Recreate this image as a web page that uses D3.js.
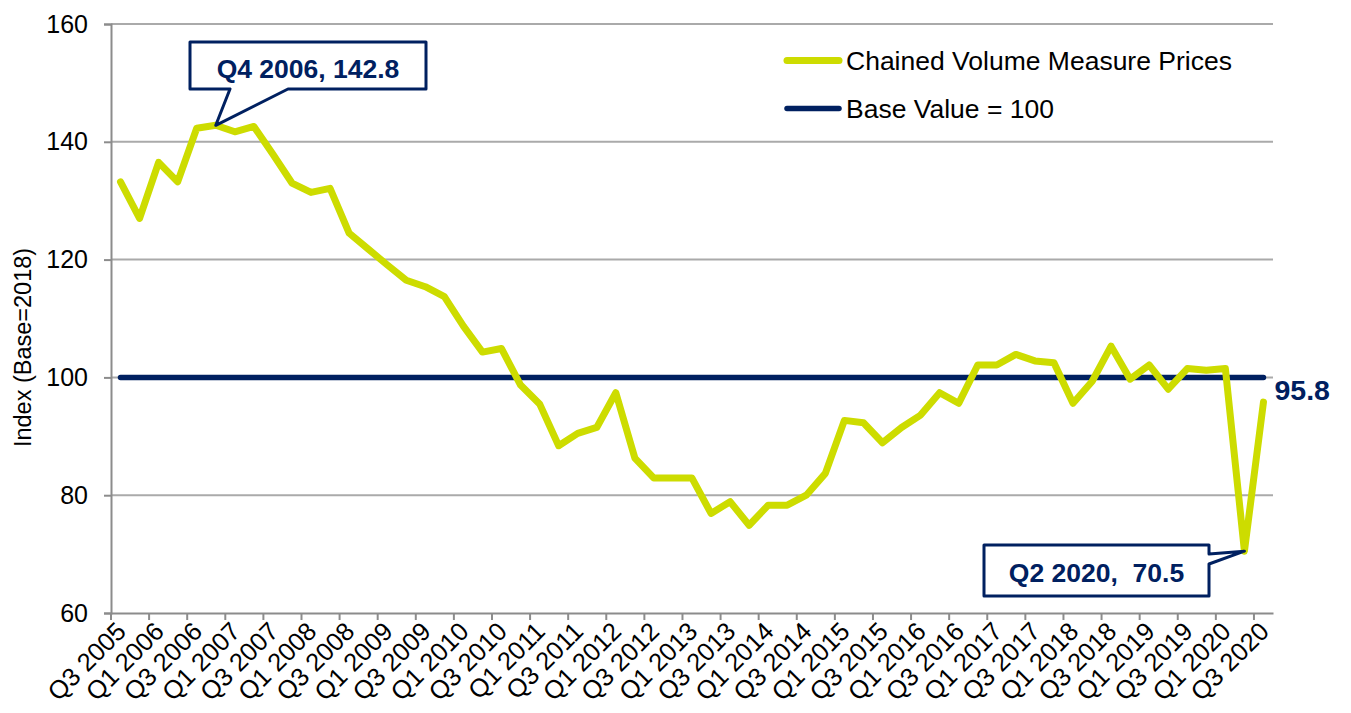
<!DOCTYPE html>
<html>
<head>
<meta charset="utf-8">
<script src="https://cdn.jsdelivr.net/npm/d3@7"></script>
<style>
  html, body { margin: 0; padding: 0; background: #ffffff; }
  svg { display: block; font-family: "Liberation Sans", Arial, sans-serif; }
</style>
</head>
<body>
<svg id="chart" width="1351" height="713"></svg>
<script>
const quarters = [
  "Q3 2005","Q4 2005","Q1 2006","Q2 2006","Q3 2006","Q4 2006","Q1 2007","Q2 2007",
  "Q3 2007","Q4 2007","Q1 2008","Q2 2008","Q3 2008","Q4 2008","Q1 2009","Q2 2009",
  "Q3 2009","Q4 2009","Q1 2010","Q2 2010","Q3 2010","Q4 2010","Q1 2011","Q2 2011",
  "Q3 2011","Q4 2011","Q1 2012","Q2 2012","Q3 2012","Q4 2012","Q1 2013","Q2 2013",
  "Q3 2013","Q4 2013","Q1 2014","Q2 2014","Q3 2014","Q4 2014","Q1 2015","Q2 2015",
  "Q3 2015","Q4 2015","Q1 2016","Q2 2016","Q3 2016","Q4 2016","Q1 2017","Q2 2017",
  "Q3 2017","Q4 2017","Q1 2018","Q2 2018","Q3 2018","Q4 2018","Q1 2019","Q2 2019",
  "Q3 2019","Q4 2019","Q1 2020","Q2 2020","Q3 2020"
];
const cvmPrices = [
  133.2,127.0,136.5,133.2,142.3,142.8,141.7,142.6,
  137.9,133.0,131.4,132.1,124.5,121.8,119.1,116.5,
  115.4,113.7,108.7,104.3,104.9,98.7,95.5,88.4,
  90.5,91.5,97.4,86.3,82.9,82.9,82.9,76.9,
  78.9,74.9,78.3,78.3,80.0,83.7,92.7,92.3,
  88.9,91.5,93.6,97.4,95.6,102.1,102.1,103.9,
  102.8,102.5,95.6,99.3,105.3,99.7,102.1,98.0,
  101.5,101.2,101.5,70.5,95.8
];
const baseValue = 100;
const yTicks = [60, 80, 100, 120, 140, 160];
const xTickLabels = quarters.filter((q, i) => i % 2 === 0);
const seriesNames = ["Chained Volume Measure Prices", "Base Value = 100"];
const callouts = [
  { quarter: "Q4 2006", value: 142.8, text: "Q4 2006, 142.8" },
  { quarter: "Q2 2020", value: 70.5, text: "Q2 2020,  70.5" }
];
const endLabel = "95.8";
const yTitle = "Index (Base=2018)";

const YELLOW = "#cddc00";
const NAVY = "#002060";
const GRID = "#aaaaaa";
const AXIS = "#8c8c8c";

const svg = d3.select("#chart");
const plot = { left: 111, right: 1273, top: 24, bottom: 613 };

const xBand = d3.scaleBand().domain(quarters).range([plot.left, plot.right]).padding(0);
const x = q => xBand(q) + xBand.bandwidth() / 2;
const y = d3.scaleLinear().domain([60, 160]).range([plot.bottom, plot.top]);

// gridlines
svg.append("g").selectAll("line").data(yTicks.filter(t => t !== 60)).join("line")
  .attr("x1", plot.left).attr("x2", plot.right)
  .attr("y1", d => y(d)).attr("y2", d => y(d))
  .attr("stroke", GRID).attr("stroke-width", 2);

// y axis
const yAxis = svg.append("g").attr("transform", `translate(${plot.left},0)`)
  .call(d3.axisLeft(y).tickValues(yTicks).tickSize(7).tickPadding(16).tickFormat(d3.format("d")));
yAxis.select(".domain").attr("stroke", AXIS).attr("stroke-width", 2);
yAxis.selectAll(".tick line").attr("stroke", AXIS).attr("stroke-width", 2);
yAxis.selectAll(".tick text").attr("font-size", 25).attr("fill", "#000")
  .attr("font-family", "Liberation Sans, Arial, sans-serif");

// x axis
const xAxis = svg.append("g").attr("transform", `translate(0,${plot.bottom})`)
  .call(d3.axisBottom(xBand).tickValues(xTickLabels).tickSize(0).tickSizeOuter(0));
xAxis.select(".domain").attr("stroke", AXIS).attr("stroke-width", 2);
xAxis.selectAll(".tick text")
  .attr("font-size", 25.5).attr("fill", "#000")
  .attr("font-family", "Liberation Sans, Arial, sans-serif")
  .attr("text-anchor", "end")
  .attr("x", 0).attr("y", 0).attr("dy", 0)
  .attr("transform", "translate(7,20) rotate(-45)");
// boundary tick marks every 2 categories
xAxis.append("g").selectAll("line").data(xTickLabels).join("line")
  .attr("x1", d => xBand(d)).attr("x2", d => xBand(d))
  .attr("y1", 0).attr("y2", 7)
  .attr("stroke", AXIS).attr("stroke-width", 2);

// y title
svg.append("text")
  .attr("transform", `translate(31,${(plot.top + plot.bottom) / 2 + 29}) rotate(-90)`)
  .attr("text-anchor", "middle")
  .attr("font-size", 23.5).attr("fill", "#000")
  .text(yTitle);

// base line
svg.append("line")
  .attr("x1", x(quarters[0])).attr("x2", x(quarters[quarters.length - 1]))
  .attr("y1", y(baseValue)).attr("y2", y(baseValue))
  .attr("stroke", NAVY).attr("stroke-width", 5.5).attr("stroke-linecap", "round");

// series line
const line = d3.line().x((d, i) => x(quarters[i])).y(d => y(d));
svg.append("path").datum(cvmPrices)
  .attr("d", line)
  .attr("fill", "none").attr("stroke", YELLOW).attr("stroke-width", 7)
  .attr("stroke-linejoin", "round").attr("stroke-linecap", "round");

// legend
const legend = svg.append("g");
const legendColors = [YELLOW, NAVY];
const legendWidths = [7, 5.5];
seriesNames.forEach((name, i) => {
  const ly = 60.5 + i * 48;
  legend.append("line").attr("x1", 787).attr("x2", 839).attr("y1", ly).attr("y2", ly)
    .attr("stroke", legendColors[i]).attr("stroke-width", legendWidths[i]).attr("stroke-linecap", "round");
  legend.append("text").attr("x", 846).attr("y", ly + 9.5).attr("font-size", 26.5)
    .attr("fill", "#000").text(name);
});

// callouts
function calloutAbove(c, box, p1, p2) {
  const px = x(c.quarter), py = y(c.value);
  const path = `M${box.x0},${box.y0} H${box.x1} V${box.y1} H${p2} L${px},${py} L${p1},${box.y1} H${box.x0} Z`;
  svg.append("path").attr("d", path).attr("fill", "#fff").attr("stroke", NAVY)
    .attr("stroke-width", 3).attr("stroke-linejoin", "round");
  svg.append("text").attr("x", (box.x0 + box.x1) / 2).attr("y", box.ty)
    .attr("text-anchor", "middle").attr("font-size", 26.5).attr("font-weight", "bold")
    .attr("fill", NAVY).style("white-space", "pre").text(c.text);
}
function calloutLeft(c, box, p1, p2) {
  const px = x(c.quarter), py = y(c.value);
  const path = `M${box.x0},${box.y0} H${box.x1} V${p1} L${px},${py} L${box.x1},${p2} V${box.y1} H${box.x0} Z`;
  svg.append("path").attr("d", path).attr("fill", "#fff").attr("stroke", NAVY)
    .attr("stroke-width", 3).attr("stroke-linejoin", "round");
  svg.append("text").attr("x", (box.x0 + box.x1) / 2).attr("y", box.ty)
    .attr("text-anchor", "middle").attr("font-size", 26.5).attr("font-weight", "bold")
    .attr("fill", NAVY).style("white-space", "pre").text(c.text);
}
calloutAbove(callouts[0], { x0: 190, x1: 426, y0: 42, y1: 89, ty: 78 }, 230, 288);
calloutLeft(callouts[1], { x0: 984, x1: 1209, y0: 545, y1: 596, ty: 582 }, 554, 564);

// end label
svg.append("text")
  .attr("x", x(quarters[quarters.length - 1]) + 11)
  .attr("y", y(cvmPrices[cvmPrices.length - 1]) - 2)
  .attr("font-size", 28.5).attr("font-weight", "bold").attr("fill", NAVY)
  .text(endLabel);
</script>
</body>
</html>
